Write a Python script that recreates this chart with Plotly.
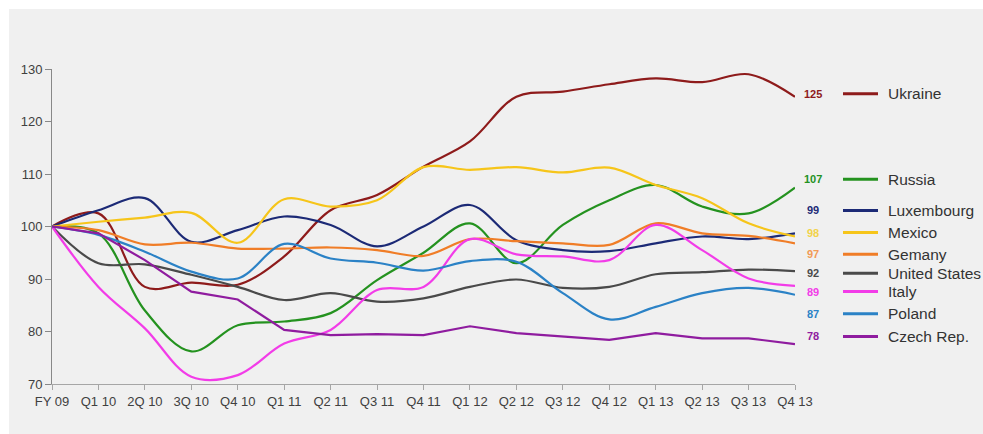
import plotly.graph_objects as go

quarters = ["FY 09", "Q1 10", "2Q 10", "3Q 10", "Q4 10", "Q1 11", "Q2 11", "Q3 11", "Q4 11",
            "Q1 12", "Q2 12", "Q3 12", "Q4 12", "Q1 13", "Q2 13", "Q3 13", "Q4 13"]

ukraine = [100, 102.5, 88.5, 89.3, 88.9, 94.3, 103.1, 106.0, 111.4, 116.2, 124.7, 125.7, 127.1, 128.2, 127.5, 129.0, 124.7]
russia = [100, 98.7, 84.0, 76.2, 81.2, 81.9, 83.5, 89.8, 95.0, 100.6, 93.0, 100.3, 105.0, 107.9, 103.8, 102.5, 107.4]
luxembourg = [100, 103.1, 105.4, 97.1, 99.3, 101.9, 100.3, 96.2, 100.0, 104.1, 97.4, 95.5, 95.3, 96.8, 98.1, 97.6, 98.7]
mexico = [100, 100.9, 101.7, 102.6, 96.9, 105.2, 103.8, 105.0, 111.3, 110.8, 111.3, 110.3, 111.2, 107.9, 105.4, 100.6, 98.1]
germany = [100, 99.3, 96.6, 96.9, 95.8, 95.8, 96.0, 95.5, 94.4, 97.6, 97.2, 96.8, 96.5, 100.6, 98.7, 98.2, 96.8]
united_states = [100, 93.0, 92.8, 90.8, 88.5, 86.0, 87.3, 85.7, 86.3, 88.5, 89.9, 88.3, 88.5, 90.9, 91.3, 91.8, 91.5]
italy = [100, 88.5, 80.6, 71.4, 71.7, 77.7, 80.3, 87.9, 88.5, 97.6, 94.7, 94.3, 93.6, 100.3, 95.5, 90.1, 88.7]
poland = [100, 98.4, 95.2, 91.4, 90.1, 96.7, 93.9, 93.1, 91.6, 93.4, 93.3, 87.3, 82.3, 84.7, 87.3, 88.3, 87.0]
czech = [100, 98.7, 93.6, 87.6, 86.1, 80.3, 79.3, 79.5, 79.3, 81.0, 79.7, 79.0, 78.4, 79.7, 78.7, 78.7, 77.6]

series_names = ["Ukraine", "Russia", "Luxembourg", "Mexico", "Gemany", "United States", "Italy", "Poland", "Czech Rep."]
series_values = [ukraine, russia, luxembourg, mexico, germany, united_states, italy, poland, czech]
colors = ["#8E1B1B", "#24921F", "#1C2A76", "#F6C51A", "#F07D27", "#4A4A4A", "#F23CE8", "#2B82C6", "#8F1C9F"]
label_colors = ["#8E1B1B", "#24921F", "#1C2A76", "#F2D34A", "#F29A55", "#4A4A4A", "#F23CE8", "#2B82C6", "#8F1C9F"]
shapes_kind = ["spline"] * 8 + ["linear"]

# vertical slots (in y-axis units) for the right-hand legend rows
legend_slots = [125.3, 109.0, 103.05, 98.85, 94.7, 91.1, 87.6, 83.4, 79.05]

fig = go.Figure()
x_idx = list(range(len(quarters)))
for name, vals, col, kind in zip(series_names, series_values, colors, shapes_kind):
    fig.add_trace(go.Scatter(
        x=x_idx, y=vals, mode="lines", name=name,
        line=dict(color=col, width=2.2, shape=kind, smoothing=1.0),
        cliponaxis=False, showlegend=False, hoverinfo="skip",
    ))

annotations = []
shapes = []
# gray background panel
shapes.append(dict(type="rect", xref="paper", yref="paper", x0=-0.0579, x1=1.3, y0=-0.2, y1=1.1905,
                   fillcolor="#F0F0F0", line=dict(width=0), layer="below"))
for name, vals, lcol, slot, col in zip(series_names, series_values, label_colors, legend_slots, colors):
    annotations.append(dict(x=1.0245, y=slot, xref="paper", yref="y", text=f"<b>{round(vals[-1])}</b>",
                            showarrow=False, font=dict(size=11, color=lcol, family="Liberation Sans, Arial"),
                            xanchor="center", yanchor="middle"))
    shapes.append(dict(type="line", xref="paper", yref="y", x0=1.0646, x1=1.1117, y0=slot, y1=slot,
                       line=dict(color=col, width=3)))
    annotations.append(dict(x=1.1225, y=slot, xref="paper", yref="y", text=name, showarrow=False,
                            font=dict(size=15.5, color="#333333", family="Liberation Sans, Arial"),
                            xanchor="left", yanchor="middle"))

fig.update_layout(
    width=983, height=434,
    margin=dict(l=52, r=188, t=69, b=50),
    paper_bgcolor="white", plot_bgcolor="#F0F0F0",
    font=dict(family="Liberation Sans, Arial", size=13, color="#404040"),
    shapes=shapes, annotations=annotations,
    xaxis=dict(range=[0, 16], tickvals=x_idx, ticktext=quarters, showgrid=False, zeroline=False,
               showline=True, linecolor="#A6A6A6", linewidth=1, ticks="outside", ticklen=5,
               tickcolor="#A6A6A6", tickfont=dict(size=13, color="#404040")),
    yaxis=dict(range=[70, 130], tickvals=[70, 80, 90, 100, 110, 120, 130], showgrid=False, zeroline=False,
               showline=True, linecolor="#888888", linewidth=1, ticks="outside", ticklen=6,
               tickcolor="#888888", tickfont=dict(size=13, color="#404040")),
)

fig.write_html("out.html", config={"displayModeBar": False, "staticPlot": True},
               post_script="document.body.style.margin='0';document.body.style.overflow='hidden';")
